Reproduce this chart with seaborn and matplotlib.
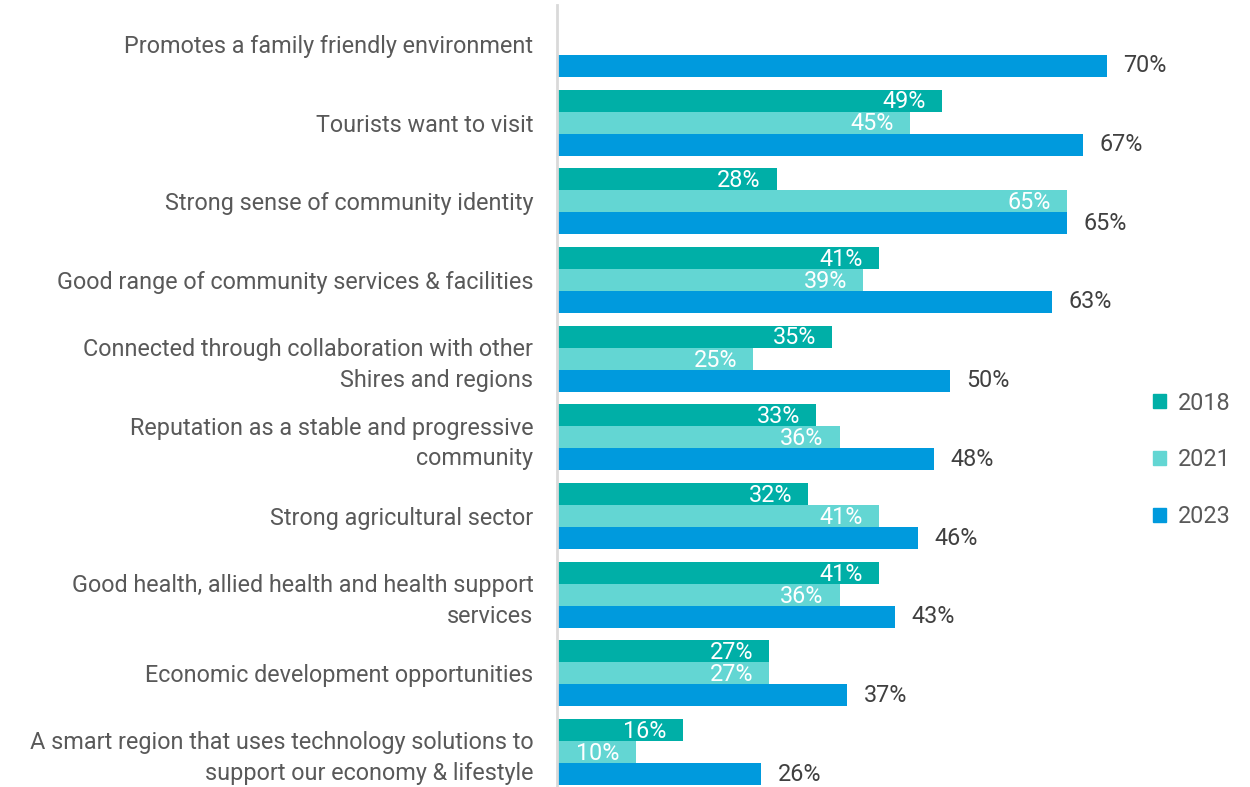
import matplotlib
matplotlib.use("Agg")
import matplotlib.pyplot as plt
import seaborn as sns
import pandas as pd
import numpy as np

categories = [
    "Promotes a family friendly environment",
    "Tourists want to visit",
    "Strong sense of community identity",
    "Good range of community services & facilities",
    "Connected through collaboration with other\nShires and regions",
    "Reputation as a stable and progressive\ncommunity",
    "Strong agricultural sector",
    "Good health, allied health and health support\nservices",
    "Economic development opportunities",
    "A smart region that uses technology solutions to\nsupport our economy & lifestyle",
]
years = ["2018", "2021", "2023"]
values_2018 = [np.nan, 49, 28, 41, 35, 33, 32, 41, 27, 16]
values_2021 = [np.nan, 45, 65, 39, 25, 36, 41, 36, 27, 10]
values_2023 = [70, 67, 65, 63, 50, 48, 46, 43, 37, 26]
colors = ["#00AFA7", "#63D6D3", "#009ADD"]

rows = []
for year, vals in zip(years, [values_2018, values_2021, values_2023]):
    for cat, v in zip(categories, vals):
        rows.append({"category": cat, "year": year, "value": v})
df = pd.DataFrame(rows)

sns.set_theme(style="white")
plt.rcParams["font.family"] = ["Roboto", "DejaVu Sans"]
FS = 16.8

W, H = 1250, 787
fig = plt.figure(figsize=(W / 100, H / 100), dpi=100)
ax = fig.add_axes([557 / W, 0, (W - 557) / W, (787 - 4.6) / H])

sns.barplot(
    data=df, y="category", x="value", hue="year", order=categories,
    hue_order=years, palette=colors, orient="h", width=0.84,
    saturation=1, ax=ax, legend=False, errorbar=None, linewidth=0,
)

ax.set_xlim(0, (W - 557) / 7.85)
ax.set_ylim(9.445, -0.5)
ax.set_xlabel("")
ax.set_ylabel("")
ax.set_xticks([])
for s in ["top", "right", "bottom"]:
    ax.spines[s].set_visible(False)
ax.spines["left"].set_color("#D9D9D9")
ax.spines["left"].set_linewidth(2)

ax.tick_params(axis="y", length=0, pad=17, labelsize=FS, labelcolor="#595959")
for lbl in ax.get_yticklabels():
    lbl.set_linespacing(1.42)

# value labels: inside (white) for 2018/2021, outside (grey) for 2023
for i, container in enumerate(ax.containers):
    for patch in container.patches:
        w = patch.get_width()
        if not np.isfinite(w) or w == 0:
            continue
        yc = patch.get_y() + patch.get_height() / 2
        label = f"{w:.0f}%"
        if i < 2:
            ax.annotate(label, (w, yc), xytext=(-11.5, -1), textcoords="offset points",
                        ha="right", va="center", color="white", fontsize=FS)
        else:
            ax.annotate(label, (w, yc), xytext=(12, 0), textcoords="offset points",
                        ha="left", va="center", color="#404040", fontsize=FS)

handles = [plt.Rectangle((0, 0), 1, 1, color=c) for c in colors]
leg = fig.legend(handles, years, loc="center left", bbox_to_anchor=(1132 / W, 1 - 460 / H),
                 frameon=False, fontsize=FS, labelcolor="#595959",
                 handlelength=0.55, handleheight=0.55, handletextpad=0.5,
                 labelspacing=1.45)

fig.savefig("out.png", dpi=100)
